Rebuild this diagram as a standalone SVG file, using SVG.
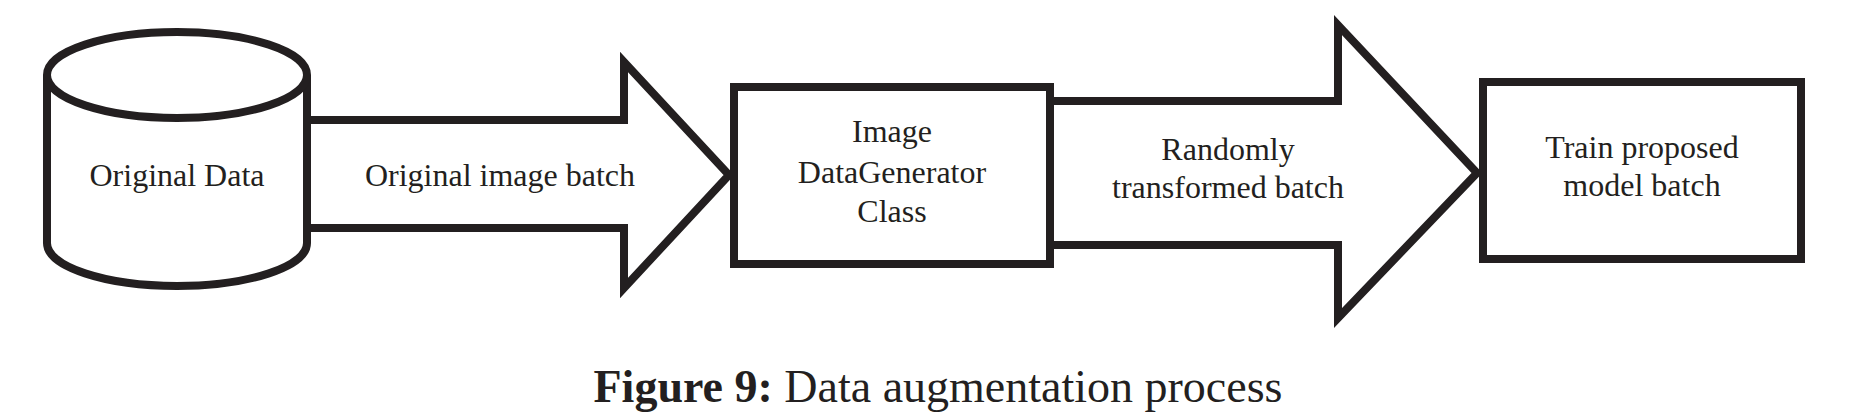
<svg xmlns="http://www.w3.org/2000/svg" width="1852" height="420" viewBox="0 0 1852 420">
<style>
.s{fill:#fff;stroke:#231f20;stroke-width:8;stroke-linejoin:miter}
.t{font-family:"Liberation Serif","Times New Roman",serif;font-size:32px;fill:#231f20;text-anchor:middle}
.c{font-family:"Liberation Serif","Times New Roman",serif;font-size:46px;fill:#231f20;text-anchor:middle}
</style>
<rect width="1852" height="420" fill="#fff"/>
<g id="connectors">
<polygon class="s" points="307,120 624,120 624,62 729,175 624,288 624,228 307,228"/>
<text class="t" x="500" y="186">Original image batch</text>
<polygon class="s" points="1050,101 1338,101 1338,25 1477,173 1338,318 1338,245 1050,245"/>
<text class="t" x="1228" y="160">Randomly</text>
<text class="t" x="1228" y="198">transformed batch</text>
</g>
<g id="original-data">
<path class="s" d="M47,75 A130,43 0 0 1 307,75 L307,243 A130,43 0 0 1 47,243 Z"/>
<path class="s" fill="none" d="M47,75 A130,43 0 0 0 307,75"/>
<text class="t" x="177" y="186">Original Data</text>
</g>
<g id="image-datagenerator">
<rect class="s" x="734" y="87" width="316" height="177"/>
<text class="t" x="892" y="142">Image</text>
<text class="t" x="892" y="183">DataGenerator</text>
<text class="t" x="892" y="222">Class</text>
</g>
<g id="train-model">
<rect class="s" x="1483" y="82" width="318" height="177"/>
<text class="t" x="1642" y="158">Train proposed</text>
<text class="t" x="1642" y="196">model batch</text>
</g>
<text class="c" x="938" y="402"><tspan font-weight="bold">Figure 9:</tspan> Data augmentation process</text>
</svg>
